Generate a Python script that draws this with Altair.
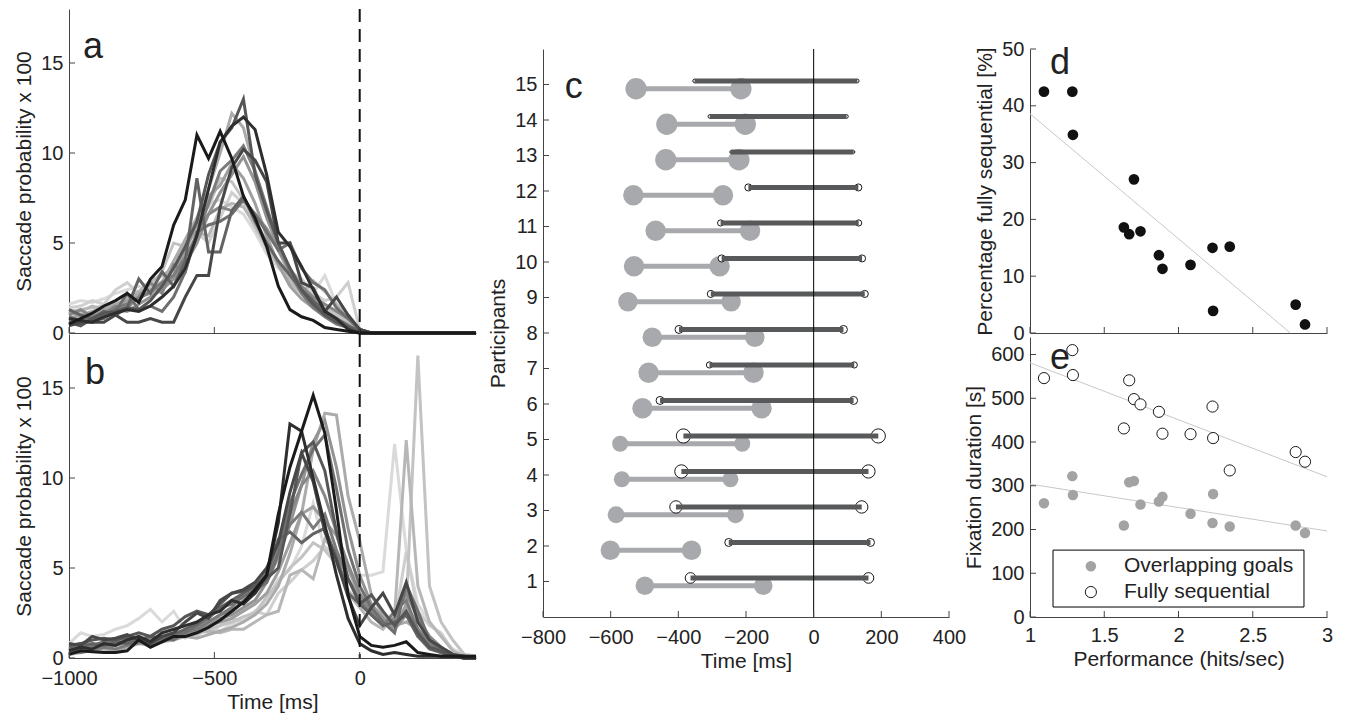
import altair as alt
import pandas as pd

FONT = "Liberation Sans"
TXT = "#222222"
AX = "#444444"

# ---------------- data ----------------
t_ms = [-1000, -960, -920, -880, -840, -800, -760, -720, -680, -640, -600, -560,
        -520, -480, -440, -400, -360, -320, -280, -240, -200, -160, -120, -80,
        -40, 0, 40, 80, 120, 160, 200, 240, 280, 320, 360, 400]

series_names = ["s01", "s02", "s03", "s04", "s05", "s06", "s07", "s08",
                "s09", "s10", "s11", "s12", "s13", "s14", "s15"]

gray_a = ["#dadada", "#cfcfcf", "#c3c3c3", "#b7b7b7", "#ababab", "#9f9f9f", "#939393",
          "#878787", "#7b7b7b", "#6f6f6f", "#636363", "#565656", "#474747", "#2e2e2e", "#1a1a1a"]
gray_b = ["#dcdcdc", "#d0d0d0", "#bdbdbd", "#b3b3b3", "#acacac", "#a2a2a2", "#959595",
          "#898989", "#7d7d7d", "#717171", "#656565", "#595959", "#4a4a4a", "#333333", "#1a1a1a"]

a01 = [1.6, 1.8, 1.7, 1.9, 2.2, 2.4, 2.6, 2.3, 2.9, 3.5, 5.2, 6.0, 7.2, 7.4, 7.0, 6.6, 5.6, 4.4, 3.6, 3.0, 2.6, 2.2, 3.2, 1.6, 1.0, 0.2, 0, 0, 0, 0, 0, 0, 0, 0, 0, 0]
a02 = [1.4, 1.5, 1.8, 1.6, 2.4, 2.8, 2.2, 2.6, 3.2, 3.0, 4.4, 5.6, 5.0, 6.4, 7.8, 7.2, 5.8, 4.6, 3.8, 3.4, 3.0, 2.2, 1.8, 2.0, 2.8, 0.2, 0, 0, 0, 0, 0, 0, 0, 0, 0, 0]
a03 = [1.2, 1.3, 1.4, 1.5, 1.6, 1.9, 2.1, 2.6, 3.4, 5.0, 4.8, 6.3, 7.0, 8.6, 8.4, 7.4, 6.4, 5.0, 3.8, 3.0, 2.4, 1.8, 1.4, 1.0, 0.6, 0.1, 0, 0, 0, 0, 0, 0, 0, 0, 0, 0]
a04 = [1.0, 1.2, 1.5, 1.3, 1.4, 2.0, 2.3, 2.9, 3.2, 3.6, 5.0, 5.6, 5.4, 6.9, 7.2, 7.0, 6.0, 4.8, 3.8, 2.8, 2.2, 2.9, 2.3, 1.6, 0.9, 0.2, 0, 0, 0, 0, 0, 0, 0, 0, 0, 0]
a05 = [0.8, 1.0, 1.2, 1.4, 1.6, 1.8, 2.2, 2.4, 2.8, 4.0, 5.2, 6.4, 8.0, 10.0, 12.2, 11.4, 9.0, 6.6, 4.6, 3.2, 2.2, 1.6, 1.1, 0.8, 0.5, 0.1, 0, 0, 0, 0, 0, 0, 0, 0, 0, 0]
a06 = [1.2, 0.9, 1.0, 1.3, 1.2, 1.8, 2.0, 2.2, 2.6, 3.2, 4.6, 6.0, 7.6, 8.2, 9.4, 8.6, 7.2, 5.4, 3.8, 2.6, 1.9, 1.4, 1.0, 0.7, 0.4, 0.1, 0, 0, 0, 0, 0, 0, 0, 0, 0, 0]
a07 = [0.6, 0.8, 0.9, 1.0, 1.3, 1.2, 1.6, 2.0, 2.4, 3.0, 3.8, 5.0, 6.6, 7.8, 8.8, 9.8, 8.4, 6.4, 4.8, 3.4, 2.4, 1.8, 1.2, 0.8, 0.4, 0.1, 0, 0, 0, 0, 0, 0, 0, 0, 0, 0]
a08 = [1.0, 1.3, 0.9, 1.1, 1.5, 1.4, 2.0, 2.8, 2.2, 3.8, 3.4, 5.6, 6.6, 7.0, 6.8, 7.4, 6.6, 5.8, 4.6, 3.6, 2.6, 2.0, 1.6, 1.2, 0.8, 0.2, 0, 0, 0, 0, 0, 0, 0, 0, 0, 0]
a09 = [0.9, 0.7, 0.8, 1.0, 1.4, 1.6, 1.9, 2.3, 2.8, 3.2, 4.2, 5.4, 7.2, 9.0, 9.6, 10.4, 9.0, 7.0, 5.0, 3.4, 2.2, 1.4, 0.9, 0.5, 0.3, 0.0, 0, 0, 0, 0, 0, 0, 0, 0, 0, 0]
a10 = [0.8, 0.6, 0.7, 0.8, 1.2, 2.2, 1.3, 1.5, 1.2, 2.0, 3.4, 5.6, 6.0, 6.2, 6.6, 7.4, 6.6, 5.6, 4.6, 5.0, 3.6, 2.8, 2.4, 1.4, 0.8, 0.2, 0, 0, 0, 0, 0, 0, 0, 0, 0, 0]
a11 = [1.3, 1.0, 0.8, 1.2, 1.0, 1.4, 3.0, 2.2, 3.4, 2.6, 4.0, 8.6, 4.5, 4.5, 6.8, 7.6, 6.2, 5.0, 4.0, 3.2, 2.4, 1.8, 1.2, 0.8, 0.4, 0.1, 0, 0, 0, 0, 0, 0, 0, 0, 0, 0]
a12 = [0.6, 0.4, 0.8, 1.1, 1.2, 1.4, 1.3, 1.8, 2.6, 3.6, 4.8, 6.2, 8.8, 10.6, 11.4, 13.0, 8.8, 6.8, 5.0, 3.6, 2.4, 1.6, 1.0, 0.6, 0.3, 0.0, 0, 0, 0, 0, 0, 0, 0, 0, 0, 0]
a13 = [0.4, 0.6, 0.6, 0.6, 1.0, 0.6, 0.6, 0.8, 0.6, 0.6, 2.0, 3.2, 3.2, 7.0, 9.2, 10.2, 9.6, 8.4, 5.0, 5.0, 2.8, 2.5, 1.2, 2.0, 1.0, 0.2, 0, 0, 0, 0, 0, 0, 0, 0, 0, 0]
a14 = [0.8, 0.7, 0.6, 0.9, 1.1, 1.3, 1.2, 1.5, 2.0, 2.6, 3.6, 5.4, 8.0, 10.6, 11.5, 12.0, 11.3, 8.8, 5.6, 4.8, 3.7, 2.4, 1.2, 0.8, 0.2, 0.0, 0, 0, 0, 0, 0, 0, 0, 0, 0, 0]
a15 = [0.5, 0.8, 1.1, 1.5, 1.8, 2.2, 1.7, 3.0, 3.7, 6.0, 7.4, 11.0, 9.7, 11.2, 9.7, 7.6, 6.4, 4.8, 2.6, 1.3, 0.9, 0.7, 0.3, 0.2, 0.1, 0.0, 0, 0, 0, 0, 0, 0, 0, 0, 0, 0]

b01 = [0.8, 1.4, 1.2, 1.3, 1.6, 1.8, 2.2, 2.7, 2.0, 2.6, 1.6, 1.2, 1.8, 1.5, 1.9, 2.2, 2.6, 3.2, 4.4, 4.9, 6.2, 8.6, 6.0, 5.2, 4.6, 4.6, 4.6, 4.8, 11.9, 6.0, 3.0, 2.0, 1.2, 0.5, 0.2, 0.1]
b02 = [0.4, 0.8, 0.6, 0.9, 1.0, 0.8, 1.2, 1.0, 0.9, 1.3, 1.1, 1.6, 1.4, 1.8, 2.2, 2.0, 2.6, 2.4, 3.6, 4.2, 4.9, 5.4, 6.2, 5.6, 4.4, 3.4, 2.6, 2.2, 2.0, 5.9, 2.6, 1.8, 1.4, 0.4, 0.1, 0.1]
b03 = [0.5, 0.6, 0.8, 0.7, 1.0, 0.9, 1.1, 1.0, 1.2, 1.0, 1.4, 1.3, 1.6, 1.8, 2.0, 2.3, 2.5, 3.4, 4.2, 5.0, 5.6, 6.4, 6.0, 5.2, 3.8, 3.0, 2.5, 2.0, 1.8, 2.8, 16.8, 4.0, 2.0, 1.0, 0.2, 0.1]
b04 = [0.3, 0.5, 0.4, 0.6, 0.8, 0.7, 0.9, 1.0, 1.1, 1.3, 1.2, 1.4, 1.5, 1.4, 1.6, 1.6, 2.0, 2.4, 2.6, 4.6, 4.9, 4.4, 6.6, 5.8, 3.6, 2.8, 2.0, 1.6, 2.4, 12.1, 4.0, 2.0, 1.2, 0.4, 0.1, 0.1]
b05 = [0.2, 0.3, 0.4, 0.5, 0.4, 0.6, 0.8, 0.7, 0.9, 1.0, 1.2, 1.1, 1.3, 1.5, 1.7, 2.0, 2.4, 3.0, 4.0, 5.8, 8.0, 11.6, 13.6, 13.5, 9.0, 6.5, 3.5, 2.4, 1.8, 2.0, 1.6, 1.0, 0.6, 0.2, 0.1, 0.1]
b06 = [0.6, 0.4, 0.7, 0.6, 0.8, 1.0, 0.9, 1.1, 1.0, 1.2, 1.5, 1.4, 1.8, 2.0, 2.2, 2.6, 3.0, 3.6, 4.8, 6.4, 8.0, 8.4, 7.6, 6.8, 5.0, 3.4, 2.4, 2.0, 1.6, 3.0, 1.6, 0.8, 0.4, 0.1, 0.1, 0.0]
b07 = [0.3, 0.4, 0.5, 0.6, 0.8, 0.9, 0.8, 1.0, 1.2, 1.1, 1.4, 1.6, 1.8, 2.2, 2.4, 2.8, 3.2, 4.2, 5.6, 7.4, 9.6, 12.0, 13.2, 10.6, 7.2, 4.6, 3.0, 2.2, 1.6, 2.4, 1.2, 0.6, 0.3, 0.1, 0.0, 0.0]
b08 = [0.4, 0.5, 0.4, 0.6, 0.7, 0.9, 1.0, 1.1, 0.9, 1.2, 1.4, 1.6, 2.0, 2.4, 2.6, 3.2, 3.6, 4.4, 6.0, 8.0, 9.6, 10.4, 9.0, 7.0, 5.2, 3.6, 2.6, 1.8, 2.2, 3.6, 2.2, 1.2, 0.6, 0.2, 0.1, 0.0]
b09 = [0.4, 0.3, 0.5, 0.6, 0.5, 0.7, 0.9, 0.8, 1.0, 1.3, 1.5, 1.6, 2.0, 2.4, 2.8, 3.6, 4.0, 4.8, 6.2, 7.4, 8.1, 7.2, 8.0, 6.0, 4.4, 3.2, 2.4, 1.8, 2.6, 3.2, 1.6, 0.8, 0.4, 0.1, 0.0, 0.0]
b10 = [0.6, 0.8, 0.7, 0.9, 1.0, 1.1, 1.0, 0.9, 1.1, 1.0, 1.4, 1.8, 2.2, 2.8, 3.0, 3.4, 3.8, 4.2, 5.8, 8.6, 10.2, 11.6, 12.4, 9.4, 6.0, 4.0, 2.8, 2.0, 1.4, 4.1, 2.6, 1.0, 0.4, 0.1, 0.0, 0.0]
b11 = [0.5, 0.6, 0.8, 0.7, 0.9, 0.8, 1.0, 1.2, 1.1, 1.3, 1.6, 1.9, 2.4, 2.8, 3.2, 3.6, 4.0, 4.6, 6.6, 7.0, 6.4, 6.9, 7.2, 5.6, 3.6, 3.0, 2.4, 1.8, 2.0, 2.4, 1.2, 0.5, 0.3, 0.1, 0.0, 0.0]
b12 = [0.7, 0.8, 1.0, 1.1, 1.0, 1.2, 1.4, 1.2, 1.6, 1.8, 2.3, 2.6, 2.4, 3.0, 3.6, 3.7, 4.0, 4.4, 5.0, 8.0, 11.4, 12.0, 10.4, 7.0, 4.4, 3.0, 3.5, 2.6, 1.8, 2.6, 1.4, 0.6, 0.4, 0.1, 0.0, 0.0]
b13 = [0.8, 0.7, 1.2, 1.0, 1.1, 1.3, 1.0, 0.8, 1.2, 1.4, 2.0, 2.5, 2.2, 3.2, 3.6, 3.8, 4.2, 5.0, 6.4, 9.2, 11.4, 9.8, 7.0, 5.4, 3.4, 1.8, 2.8, 3.6, 2.4, 4.2, 2.0, 1.0, 0.6, 0.2, 0.1, 0.0]
b14 = [0.4, 0.6, 0.5, 0.8, 0.7, 1.0, 1.2, 0.9, 1.4, 1.6, 1.8, 2.0, 2.4, 2.6, 3.2, 3.0, 3.6, 4.6, 7.5, 13.0, 12.6, 10.0, 7.4, 4.6, 2.2, 0.8, 0.4, 0.2, 0.3, 0.2, 0.1, 0.1, 0.1, 0.1, 0.0, 0.0]
b15 = [0.2, 0.4, 0.35, 0.3, 0.3, 0.4, 1.0, 0.6, 0.9, 1.2, 1.2, 1.4, 1.7, 2.1, 2.6, 3.1, 3.8, 4.6, 8.0, 10.6, 12.6, 14.6, 12.5, 8.2, 3.5, 1.2, 0.7, 0.6, 0.7, 0.9, 0.3, 0.2, 0.1, 0.1, 0.1, 0.1]

# panel c: participants and saccade timing intervals (ms)
participants = [1, 2, 3, 4, 5, 6, 7, 8, 9, 10, 11, 12, 13, 14, 15]
light_start = [-499, -601, -584, -567, -572, -506, -488, -477, -549, -531, -467, -533, -437, -434, -525]
light_end = [-149, -361, -231, -246, -211, -154, -178, -174, -244, -278, -188, -268, -221, -202, -215]
light_weight = [21, 22, 19, 18, 18, 23, 23, 22, 22, 23, 23, 23, 24, 24, 24]
dark_start = [-364, -251, -407, -391, -385, -454, -308, -398, -304, -272, -275, -193, -244, -307, -352]
dark_end = [162, 168, 142, 162, 191, 118, 120, 88, 151, 143, 133, 132, 118, 97, 129]
dark_weight = [12, 9, 14, 15, 16, 9, 7, 9, 8, 8, 7, 8, 3, 4, 4]

# panels d, e
performance = [1.094, 1.285, 1.289, 1.700, 1.632, 1.668, 1.744, 1.868, 1.892, 2.081, 2.229, 2.345, 2.233, 2.789, 2.852]
pct_sequential = [42.5, 42.5, 34.9, 27.05, 18.6, 17.4, 17.9, 13.7, 11.3, 12.0, 15.0, 15.2, 3.9, 5.0, 1.5]
fix_sequential = [546, 610, 553, 498, 431, 541, 486, 469, 419, 418, 481, 335, 409, 377, 355]
fix_overlap = [260, 322, 279, 311, 209, 308, 257, 264, 275, 236, 215, 207, 281, 209, 192]
fit_d_x = [1.0, 2.753]
fit_d_y = [38.6, 0.0]
fit_seq_x = [1.0, 3.0]
fit_seq_y = [581.0, 320.5]
fit_ovl_x = [1.0, 3.0]
fit_ovl_y = [303.8, 196.7]

legend_labels = ["Overlapping goals", "Fully sequential"]

# ---------------- helpers ----------------
def long_df(series_list):
    rows = []
    for name, vals in zip(series_names, series_list):
        for t, v in zip(t_ms, vals):
            rows.append({"s": name, "t": t, "v": v})
    return pd.DataFrame(rows)


def yticks(vals, scale):
    return alt.Chart(pd.DataFrame({"v": vals})).mark_rule(color=AX, strokeWidth=1).encode(
        y=alt.Y("v:Q", scale=scale), x=alt.value(0), x2=alt.value(6))


def xticks(vals, scale, h):
    return alt.Chart(pd.DataFrame({"t": vals})).mark_rule(color=AX, strokeWidth=1).encode(
        x=alt.X("t:Q", scale=scale), y=alt.value(h), y2=alt.value(h - 6))


def letter(ch, x, y, sx, sy):
    return alt.Chart(pd.DataFrame({"t": [x], "v": [y], "lab": [ch]})).mark_text(
        align="left", baseline="alphabetic", fontSize=36, font=FONT, color=TXT).encode(
        x=alt.X("t:Q", scale=sx), y=alt.Y("v:Q", scale=sy), text="lab:N")


def spacer(h):
    return alt.Chart(pd.DataFrame({"q": [0.5]})).mark_point(opacity=0).encode(
        x=alt.X("q:Q", axis=None, scale=alt.Scale(domain=[0, 1])),
        y=alt.Y("q:Q", axis=None, scale=alt.Scale(domain=[0, 1]))).properties(width=20, height=h)


# ---------------- panels a, b ----------------
W_AB, H_AB = 407, 324
sx_ab = alt.Scale(domain=[-1000, 400], nice=False, zero=False)
sy_ab = alt.Scale(domain=[0, 18], nice=False)


def line_panel(series_list, grays, show_x, ch, lx, ly):
    xaxis = alt.Axis(values=[-1000, -500, 0], labels=show_x, title="Time [ms]" if show_x else None,
                     format="d", labelPadding=10, titlePadding=3)
    lines = alt.Chart(long_df(series_list)).mark_line(strokeWidth=3).encode(
        x=alt.X("t:Q", scale=sx_ab, axis=xaxis),
        y=alt.Y("v:Q", scale=sy_ab, axis=alt.Axis(values=[0, 5, 10, 15], title="Saccade probability x 100")),
        color=alt.Color("s:N", scale=alt.Scale(domain=series_names, range=grays), legend=None),
    )
    dash = alt.Chart(pd.DataFrame({"t": [0]})).mark_rule(color="#111111", strokeWidth=2, strokeDash=[13, 7]).encode(
        x=alt.X("t:Q", scale=sx_ab))
    return alt.layer(lines, dash, yticks([0, 5, 10, 15], sy_ab), xticks([-1000, -500, 0], sx_ab, H_AB),
                     letter(ch, lx, ly, sx_ab, sy_ab)).properties(width=W_AB, height=H_AB)


pa = line_panel([a01, a02, a03, a04, a05, a06, a07, a08, a09, a10, a11, a12, a13, a14, a15],
                gray_a, False, "a", -952, 15.3)
pb = line_panel([b01, b02, b03, b04, b05, b06, b07, b08, b09, b10, b11, b12, b13, b14, b15],
                gray_b, True, "b", -945, 15.2)

# ---------------- panel c ----------------
W_C, H_C = 406, 568
sx_c = alt.Scale(domain=[-800, 400], nice=False, zero=False)
sy_c = alt.Scale(domain=[0, 16], nice=False)
size_c = alt.Scale(type="pow", exponent=2, domain=[0, 30], range=[0, 706.9])

light_df = pd.DataFrame({"p": participants, "t": light_start, "t2": light_end, "w": light_weight})
light_df["v"] = light_df["p"] - 0.12
dark_df = pd.DataFrame({"p": participants, "t": dark_start, "t2": dark_end, "w": dark_weight})
dark_df["v"] = dark_df["p"] + 0.1

light_pts = pd.concat([
    pd.DataFrame({"t": light_start, "v": light_df["v"], "w": light_weight}),
    pd.DataFrame({"t": light_end, "v": light_df["v"], "w": light_weight})])
dark_pts = pd.concat([
    pd.DataFrame({"t": dark_start, "v": dark_df["v"], "w": dark_weight}),
    pd.DataFrame({"t": dark_end, "v": dark_df["v"], "w": dark_weight})])

LIGHT = "#a8a9ac"
DARK = "#58595b"

c_main = alt.Chart(light_df).mark_rule(color=LIGHT, strokeWidth=5).encode(
    x=alt.X("t:Q", scale=sx_c, axis=alt.Axis(values=[-800, -600, -400, -200, 0, 200, 400], title="Time [ms]",
                                             format="d", labelPadding=10, titlePadding=3)),
    x2="t2:Q",
    y=alt.Y("v:Q", scale=sy_c, axis=alt.Axis(values=participants, title="Participants")),
)
c_light_pts = alt.Chart(light_pts).mark_circle(color=LIGHT, opacity=1).encode(
    x=alt.X("t:Q", scale=sx_c), y=alt.Y("v:Q", scale=sy_c),
    size=alt.Size("w:Q", scale=size_c, legend=None))
c_dark_pts = alt.Chart(dark_pts).mark_circle(fill="white", stroke="black", strokeWidth=0.9, opacity=1).encode(
    x=alt.X("t:Q", scale=sx_c), y=alt.Y("v:Q", scale=sy_c),
    size=alt.Size("w:Q", scale=size_c, legend=None))
c_dark = alt.Chart(dark_df).mark_rule(color=DARK, strokeWidth=5).encode(
    x=alt.X("t:Q", scale=sx_c), x2="t2:Q", y=alt.Y("v:Q", scale=sy_c))
c_zero = alt.Chart(pd.DataFrame({"t": [0]})).mark_rule(color="black", strokeWidth=1).encode(
    x=alt.X("t:Q", scale=sx_c))

pc = alt.layer(c_main, c_light_pts, c_dark_pts, c_dark, c_zero,
               yticks(participants, sy_c), xticks([-800, -600, -400, -200, 0, 200, 400], sx_c, H_C),
               letter("c", -736, 14.62, sx_c, sy_c)).properties(width=W_C, height=H_C)

# ---------------- panel d ----------------
W_DE, H_D, H_E = 297, 284, 280
sx_de = alt.Scale(domain=[1, 3], nice=False, zero=False)
sy_d = alt.Scale(domain=[0, 50], nice=False)
sy_e = alt.Scale(domain=[0, 640], nice=False)

d_fit = alt.Chart(pd.DataFrame({"t": fit_d_x, "v": fit_d_y})).mark_line(color="#c8c8c8", strokeWidth=1).encode(
    x=alt.X("t:Q", scale=sx_de, axis=alt.Axis(values=[1, 1.5, 2, 2.5, 3], labels=False, title=None)),
    y=alt.Y("v:Q", scale=sy_d, axis=alt.Axis(values=[0, 10, 20, 30, 40, 50],
                                             title="Percentage fully sequential [%]")))
d_pts = alt.Chart(pd.DataFrame({"t": performance, "v": pct_sequential})).mark_circle(
    color="#111111", size=115, opacity=1).encode(
    x=alt.X("t:Q", scale=sx_de), y=alt.Y("v:Q", scale=sy_d))
pdd = alt.layer(d_fit, d_pts, yticks([0, 10, 20, 30, 40, 50], sy_d),
                xticks([1, 1.5, 2, 2.5, 3], sx_de, H_D),
                letter("d", 1.135, 45.6, sx_de, sy_d)).properties(width=W_DE, height=H_D)

# ---------------- panel e ----------------
e_fit_seq = alt.Chart(pd.DataFrame({"t": fit_seq_x, "v": fit_seq_y})).mark_line(color="#c8c8c8", strokeWidth=1).encode(
    x=alt.X("t:Q", scale=sx_de, axis=alt.Axis(values=[1, 1.5, 2, 2.5, 3], format="~g",
                                              title="Performance (hits/sec)", labelPadding=8, titlePadding=3)),
    y=alt.Y("v:Q", scale=sy_e, axis=alt.Axis(values=[0, 100, 200, 300, 400, 500, 600],
                                             title="Fixation duration [s]")))
e_fit_ovl = alt.Chart(pd.DataFrame({"t": fit_ovl_x, "v": fit_ovl_y})).mark_line(color="#c8c8c8", strokeWidth=1).encode(
    x=alt.X("t:Q", scale=sx_de), y=alt.Y("v:Q", scale=sy_e))
e_seq = alt.Chart(pd.DataFrame({"t": performance, "v": fix_sequential})).mark_circle(
    fill="white", stroke="black", strokeWidth=0.9, size=125, opacity=1).encode(
    x=alt.X("t:Q", scale=sx_de), y=alt.Y("v:Q", scale=sy_e))
e_ovl = alt.Chart(pd.DataFrame({"t": performance, "v": fix_overlap})).mark_circle(
    color="#a3a3a3", size=110, opacity=1).encode(
    x=alt.X("t:Q", scale=sx_de), y=alt.Y("v:Q", scale=sy_e))

leg_box = alt.Chart(pd.DataFrame({"t": [1.155], "t2": [2.845], "v": [22.8], "v2": [152.9]})).mark_rect(
    fill="white", stroke="black", strokeWidth=1).encode(
    x=alt.X("t:Q", scale=sx_de), x2="t2:Q", y=alt.Y("v:Q", scale=sy_e), y2="v2:Q")
leg_ovl = alt.Chart(pd.DataFrame({"t": [1.41], "v": [116]})).mark_circle(color="#a3a3a3", size=110, opacity=1).encode(
    x=alt.X("t:Q", scale=sx_de), y=alt.Y("v:Q", scale=sy_e))
leg_seq = alt.Chart(pd.DataFrame({"t": [1.41], "v": [57]})).mark_circle(
    fill="white", stroke="black", strokeWidth=0.9, size=125, opacity=1).encode(
    x=alt.X("t:Q", scale=sx_de), y=alt.Y("v:Q", scale=sy_e))
leg_txt = alt.Chart(pd.DataFrame({"t": [1.633, 1.633], "v": [116, 57], "lab": legend_labels})).mark_text(
    align="left", baseline="middle", fontSize=21, font=FONT, color=TXT).encode(
    x=alt.X("t:Q", scale=sx_de), y=alt.Y("v:Q", scale=sy_e), text="lab:N")

pe = alt.layer(e_fit_seq, e_fit_ovl, e_seq, e_ovl, leg_box, leg_ovl, leg_seq, leg_txt,
               yticks([0, 100, 200, 300, 400, 500, 600], sy_e),
               xticks([1, 1.5, 2, 2.5, 3], sx_de, H_E),
               letter("e", 1.135, 568, sx_de, sy_e)).properties(width=W_DE, height=H_E)

# ---------------- layout ----------------
left = alt.vconcat(pa, pb, spacing=1, bounds="flush")
center = alt.vconcat(spacer(40), pc, spacing=0, bounds="flush")
right = alt.vconcat(spacer(36), pdd, pe, spacing=4, bounds="flush")

chart = alt.hconcat(alt.hconcat(left, center, spacing=5), right, spacing=-3).properties(
    padding={"left": 5, "top": 0, "right": 5, "bottom": 5}
).configure_view(stroke=None).configure_axis(
    labelFont=FONT, titleFont=FONT, labelFontSize=20, titleFontSize=21,
    labelColor=TXT, titleColor=TXT, titleFontWeight="normal",
    domainColor=AX, domainWidth=1, ticks=False, tickSize=0, grid=False,
    labelPadding=6, titlePadding=6, labelFlush=False,
)

chart.save("out.html", embed_options={"renderer": "svg", "actions": False})
